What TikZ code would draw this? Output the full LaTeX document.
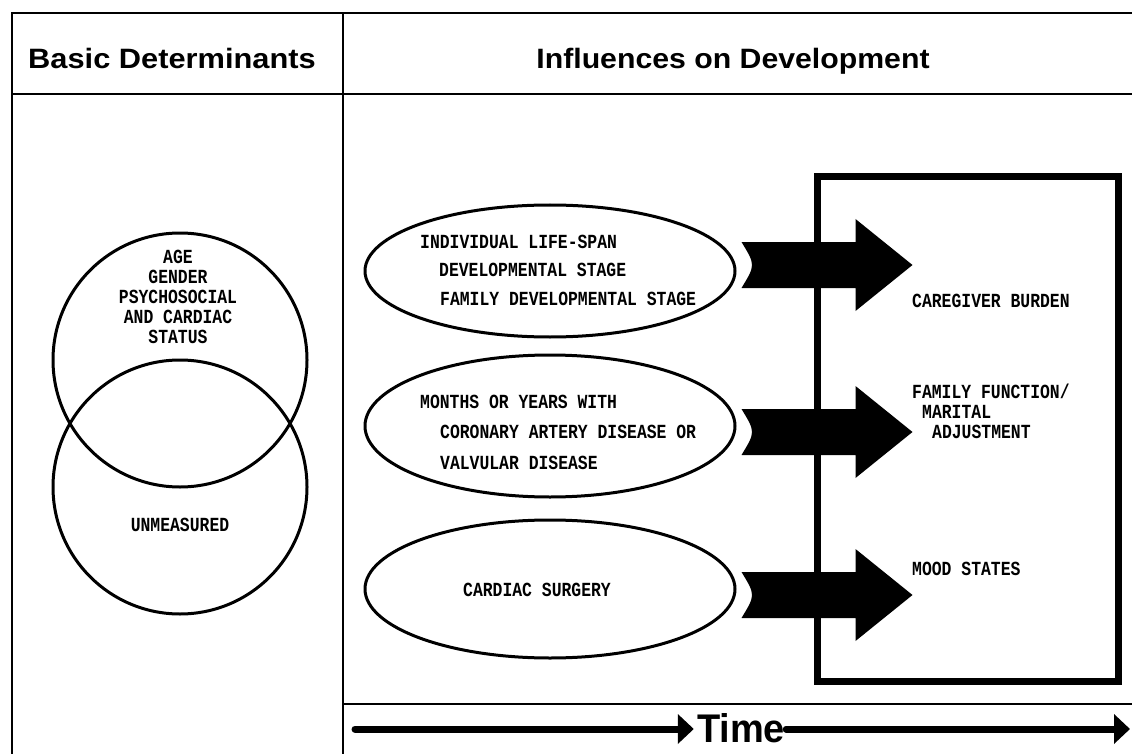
\documentclass[tikz,border=0pt]{standalone}
\usepackage{fontspec}
\setmainfont{Liberation Sans}
\newfontfamily\typefont{Liberation Mono}
\usetikzlibrary{calc,arrows.meta,shapes.geometric}

% broad block arrow with a concave tail, leaving node #1 at its east side;
% #2 moves the arrow axis down from the node centre
\newcommand\blockarrow[2]{%
  \fill let \p1=(#1.east) in
    ($(\p1)+(5,#2-23)$) .. controls ($(\p1)+(19,#2)$) .. ($(\p1)+(5,#2+23)$)
    -- ($(\p1)+(119,#2+23)$) -- ($(\p1)+(119,#2+46)$) -- ($(\p1)+(176,#2)$)
    -- ($(\p1)+(119,#2-46)$) -- ($(\p1)+(119,#2-23)$) -- cycle;}

\begin{document}
\begin{tikzpicture}[x=1pt,y=-1pt,
  frame/.style={line width=2.5pt},
  header/.style={font=\fontsize{28}{30}\selectfont\bfseries, inner sep=0pt, anchor=base},
  lab/.style={font=\typefont\bfseries\fontsize{16.4}{16.4}\selectfont, inner sep=0pt,
              yscale=1.22, transform shape},
  venn/.style={draw, circle, line width=3pt, minimum size=254pt, inner sep=0pt},
  oval/.style={draw, ellipse, line width=3pt, minimum width=370pt, inner sep=0pt},
  timearrow/.style={line width=7pt, line cap=round, -{Triangle[length=16pt,width=29pt]}}]

\useasboundingbox (0,0) rectangle (1132,754);

% table frame
\draw[frame] (12,754) -- (12,13) -- (1132,13);
\draw[frame] (12,94) -- (1132,94);
\draw[frame] (343,13) -- (343,754);
\draw[frame] (343,704) -- (1132,704);

% column headings
\node[header] (hbasic) at (172,69) {\scalebox{1.1}[1]{Basic Determinants}};
\node[header] (hinfl) at (733,69) {\scalebox{1.08}[1]{Influences on Development}};

% basic determinants
\node[venn] (measured) at (180,360) {};
\node[venn] (unmeasured) at (180,487) {};
\node[lab, align=center, font=\typefont\bfseries\fontsize{16.4}{16.4}\selectfont]
  (measuredtxt) at (178,297) {AGE\\GENDER\\PSYCHOSOCIAL\\AND CARDIAC\\STATUS};
\node[lab] (unmeasuredtxt) at (180,525) {UNMEASURED};

% influences
\node[oval, minimum height=132pt] (e1) at (550,271) {};
\node[oval, minimum height=142pt] (e2) at (550,426) {};
\node[oval, minimum height=138pt] (e3) at (550,589) {};

% multi-line labels are placed by the baseline of their last line
\node[lab, align=left, anchor=base west, font=\typefont\bfseries\fontsize{16.4}{23}\selectfont]
  (e1txt) at (420,305)
  {INDIVIDUAL LIFE-SPAN\\\hspace*{19pt}DEVELOPMENTAL STAGE\\\hspace*{20pt}FAMILY DEVELOPMENTAL STAGE};
\node[lab, align=left, anchor=base west, font=\typefont\bfseries\fontsize{16.4}{25}\selectfont]
  (e2txt) at (420,469)
  {MONTHS OR YEARS WITH\\\hspace*{20pt}CORONARY ARTERY DISEASE OR\\\hspace*{20pt}VALVULAR DISEASE};
\node[lab] (e3txt) at (537,590) {CARDIAC SURGERY};

% outcomes
\node[draw, line width=7pt, minimum width=301pt, minimum height=504pt, inner sep=0pt]
  (outbox) at (967.5,429) {};
\node[lab, anchor=west] (burden) at (912,301) {CAREGIVER BURDEN};
\node[lab, align=left, anchor=base west, font=\typefont\bfseries\fontsize{16.4}{16}\selectfont]
  (family) at (912,438) {FAMILY FUNCTION/\\\hspace*{10pt}MARITAL\\\hspace*{20pt}ADJUSTMENT};
\node[lab, anchor=west] (mood) at (912,569) {MOOD STATES};

% influence arrows
\blockarrow{e1}{-6}
\blockarrow{e2}{6}
\blockarrow{e3}{6}

% time axis
\node[inner sep=0pt, anchor=base, font=\fontsize{40}{42}\selectfont\bfseries]
  (time) at (741,742) {\scalebox{0.95}[1]{Time}};
\coordinate (t0) at (355,729);
\coordinate (t1) at (1130,729);
\draw[timearrow] (t0) -- ([xshift=-3pt]time.west |- t0);
\draw[timearrow] ([xshift=1pt]time.east |- t0) -- (t1);

\end{tikzpicture}
\end{document}
